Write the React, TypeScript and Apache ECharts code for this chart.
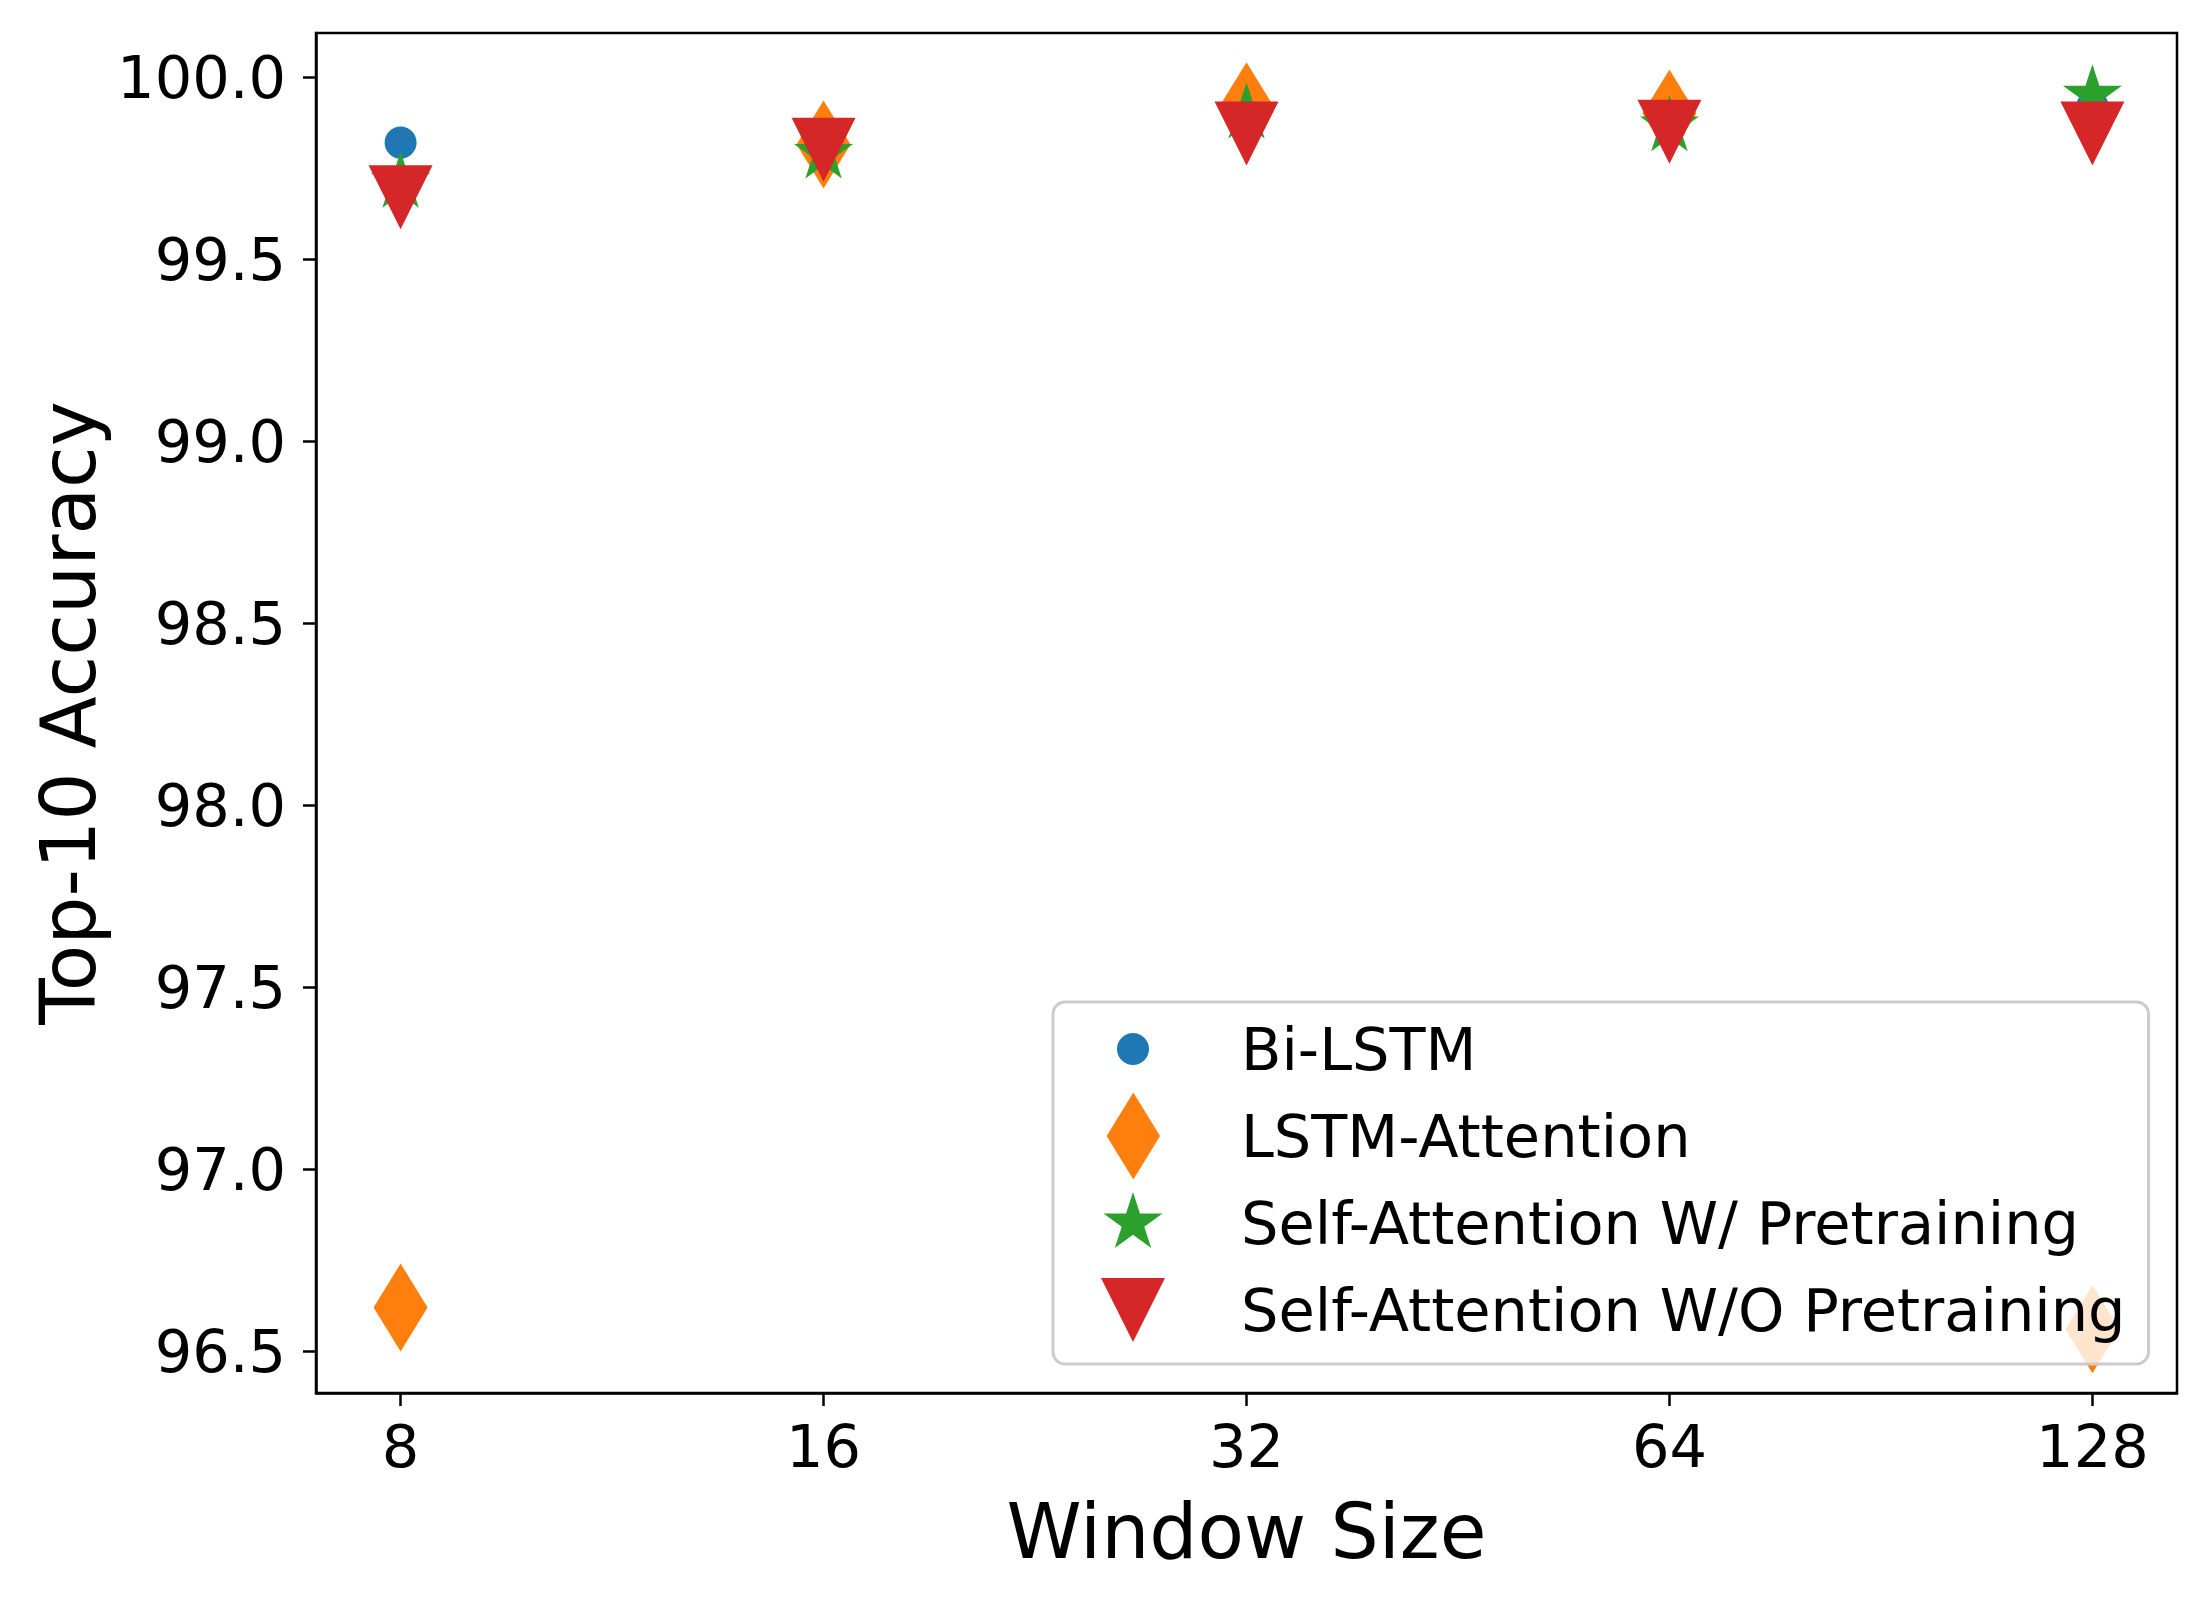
import React, { useEffect, useRef } from "react";
import * as echarts from "echarts";

const windowSizes = ["8", "16", "32", "64", "128"];
const seriesNames = [
  "Bi-LSTM",
  "LSTM-Attention",
  "Self-Attention W/ Pretraining",
  "Self-Attention W/O Pretraining",
];
const biLstm = [99.82, 99.8, 99.86, 99.86, 99.92];
const lstmAttention = [96.62, 99.815, 99.92, 99.9, 96.56];
const selfAttnPre = [99.71, 99.79, 99.9, 99.865, 99.95];
const selfAttnNoPre = [99.67, 99.8, 99.845, 99.85, 99.845];
const yTicks = [96.5, 97.0, 97.5, 98.0, 98.5, 99.0, 99.5, 100.0];
const xTicks = [0, 1, 2, 3, 4];

const colors = ["#1f77b4", "#ff7f0e", "#2ca02c", "#d62728"];
const FONT = "DejaVu Sans";

function shapePath(kind: string, cx: number, cy: number): string {
  if (kind === "circle") {
    const r = 16;
    return `M${cx - r} ${cy} A${r} ${r} 0 1 0 ${cx + r} ${cy} A${r} ${r} 0 1 0 ${cx - r} ${cy} Z`;
  }
  if (kind === "diamond") {
    return `M${cx} ${cy - 44} L${cx + 27} ${cy} L${cx} ${cy + 44} L${cx - 27} ${cy} Z`;
  }
  if (kind === "triangle") {
    return `M${cx - 32} ${cy - 32} L${cx + 32} ${cy - 32} L${cx} ${cy + 32} Z`;
  }
  // star
  const R = 31;
  const r = R * 0.381966;
  const pts: string[] = [];
  for (let k = 0; k < 10; k++) {
    const rad = k % 2 === 0 ? R : r;
    const a = (k * 36 * Math.PI) / 180;
    const x = cx + rad * Math.sin(a);
    const y = cy - rad * Math.cos(a);
    pts.push(`${k === 0 ? "M" : "L"}${x.toFixed(2)} ${y.toFixed(2)}`);
  }
  return pts.join(" ") + " Z";
}

function symbol(kind: string, w: number, h: number, cx: number, cy: number) {
  return `path://M0 0 M${w} ${h} ` + shapePath(kind, cx, cy);
}

const kinds = ["circle", "diamond", "star", "triangle"];

export default function App() {
  const ref = useRef<HTMLDivElement>(null);
  useEffect(() => {
    if (!ref.current) return;
    const chart = echarts.init(ref.current, null, { renderer: "svg" });
    const allData = [biLstm, lstmAttention, selfAttnPre, selfAttnNoPre];
    const option: any = {
      animation: false,
      backgroundColor: "#ffffff",
      grid: {
        left: 316,
        top: 33,
        right: 32,
        bottom: 205,
        show: true,
        borderColor: "#000",
        borderWidth: 2.5,
        containLabel: false,
      },
      xAxis: {
        type: "value",
        min: -0.2,
        max: 4.2,
        name: "Window Size",
        nameLocation: "middle",
        nameGap: 100,
        nameTextStyle: { fontSize: 76, fontFamily: FONT, color: "#000" },
        axisLine: { show: true, onZero: false, lineStyle: { color: "#000", width: 2.5 } },
        axisTick: {
          show: true,
          length: 13,
          customValues: xTicks,
          lineStyle: { color: "#000", width: 2.5 },
        },
        axisLabel: {
          show: true,
          customValues: xTicks,
          margin: 24,
          fontSize: 59,
          fontFamily: FONT,
          color: "#000",
          formatter: (v: number) => windowSizes[Math.round(v)] ?? "",
        },
        splitLine: { show: false },
      },
      yAxis: {
        type: "value",
        min: 96.385,
        max: 100.121,
        name: "Top-10 Accuracy",
        nameLocation: "middle",
        nameGap: 205,
        nameTextStyle: { fontSize: 76, fontFamily: FONT, color: "#000" },
        axisLine: { show: true, onZero: false, lineStyle: { color: "#000", width: 2.5 } },
        axisTick: {
          show: true,
          length: 13,
          customValues: yTicks,
          lineStyle: { color: "#000", width: 2.5 },
        },
        axisLabel: {
          show: true,
          customValues: yTicks,
          margin: 30,
          fontSize: 59,
          fontFamily: FONT,
          color: "#000",
          formatter: (v: number) => v.toFixed(1),
        },
        splitLine: { show: false },
      },
      legend: {
        orient: "vertical",
        left: 1053,
        top: 1002,
        padding: [3.5, 23, 10.5, 36],
        itemWidth: 147,
        itemHeight: 87,
        itemGap: 0,
        selectedMode: false,
        backgroundColor: "rgba(255,255,255,0.8)",
        borderColor: "#cccccc",
        borderWidth: 3,
        borderRadius: 12,
        textStyle: { fontSize: 59, fontFamily: FONT, color: "#000" },
        data: seriesNames.map((n, i) => ({
          name: n,
          icon: symbol(kinds[i], 147, 87, 44, 43.5),
          itemStyle: { color: colors[i] },
        })),
      },
      series: seriesNames.map((n, i) => ({
        name: n,
        type: "scatter",
        symbol: symbol(kinds[i], 88, 88, 44, 44),
        symbolSize: 88,
        itemStyle: { color: colors[i], opacity: 1 },
        data: allData[i].map((v, j) => [xTicks[j], v]),
        z: 2 + i,
      })),
    };
    chart.setOption(option);
    return () => chart.dispose();
  }, []);
  return (
    <div
      ref={ref}
      style={{ position: "fixed", left: 0, top: 0, width: 2209, height: 1598, background: "#fff" }}
    />
  );
}
